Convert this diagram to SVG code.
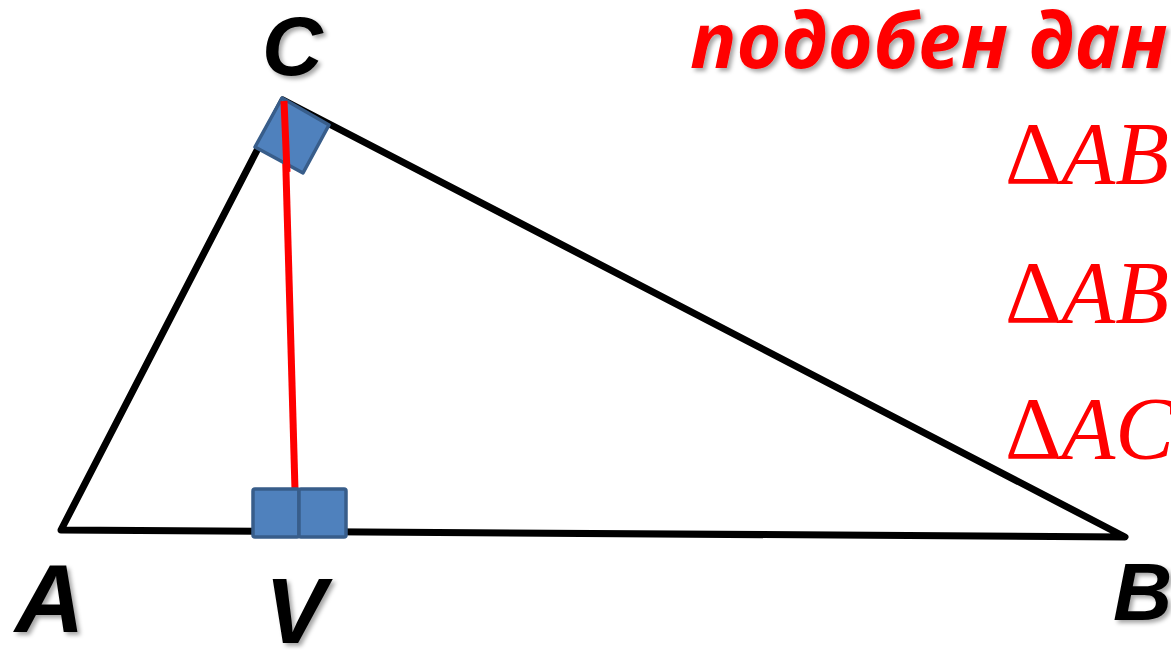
<svg xmlns="http://www.w3.org/2000/svg" width="1171" height="650" viewBox="0 0 1171 650">
<defs>
<filter id="sh" x="-20%" y="-20%" width="140%" height="140%">
<feDropShadow dx="3" dy="3" stdDeviation="2" flood-color="#000" flood-opacity="0.35"/>
</filter>
</defs>
<style>
.side{stroke:#000;stroke-width:7;fill:none;stroke-linejoin:round;stroke-linecap:round}
.alt{stroke:#FF0000;stroke-width:7;fill:none}
.mark{fill:#4F81BD;stroke:#385D8A;stroke-width:3.5;stroke-linejoin:round}
.lbl{font-family:"Liberation Sans",Arial,sans-serif;font-weight:bold;font-style:italic;fill:#000;filter:url(#sh)}
.title{font-family:"Open Sans","Liberation Sans",sans-serif;font-weight:bold;font-style:italic;fill:#FF0000;filter:url(#sh)}
.math{font-family:"Liberation Serif","Times New Roman",serif;fill:#FF0000;font-size:88px}
</style>
<rect width="1171" height="650" fill="#fff"/>
<g id="triangle">
<polygon class="side" points="61,530 283,100 1125,537"/>
</g>
<g id="connectors">
<line class="alt" x1="284" y1="101" x2="295" y2="490"/>
</g>
<g id="right-angle-C">
<polygon class="mark" points="282,98 329,125 303,173 255,147"/>
<line class="alt" x1="284" y1="101" x2="287" y2="172"/>
</g>
<g id="right-angle-V">
<rect class="mark" x="253" y="489" width="46" height="48" rx="2"/>
<rect class="mark" x="299" y="489" width="47" height="48" rx="2"/>
</g>
<g id="labels">
<text class="lbl" x="262" y="75" font-size="84">C</text>
<text class="lbl" x="15" y="632" font-size="96">A</text>
<text class="lbl" x="265" y="643" font-size="92">V</text>
<text class="lbl" x="1113" y="620" font-size="82">B</text>
</g>
<g id="title">
<text class="title" x="690" y="68" font-size="77">подобен дани</text>
</g>
<g id="relations">
<text class="math" x="1005" y="183"><tspan>Δ</tspan><tspan font-style="italic">AB</tspan></text>
<text class="math" x="1005" y="322"><tspan>Δ</tspan><tspan font-style="italic">AB</tspan></text>
<text class="math" x="1005" y="458"><tspan>Δ</tspan><tspan font-style="italic">AC</tspan></text>
</g>
</svg>
